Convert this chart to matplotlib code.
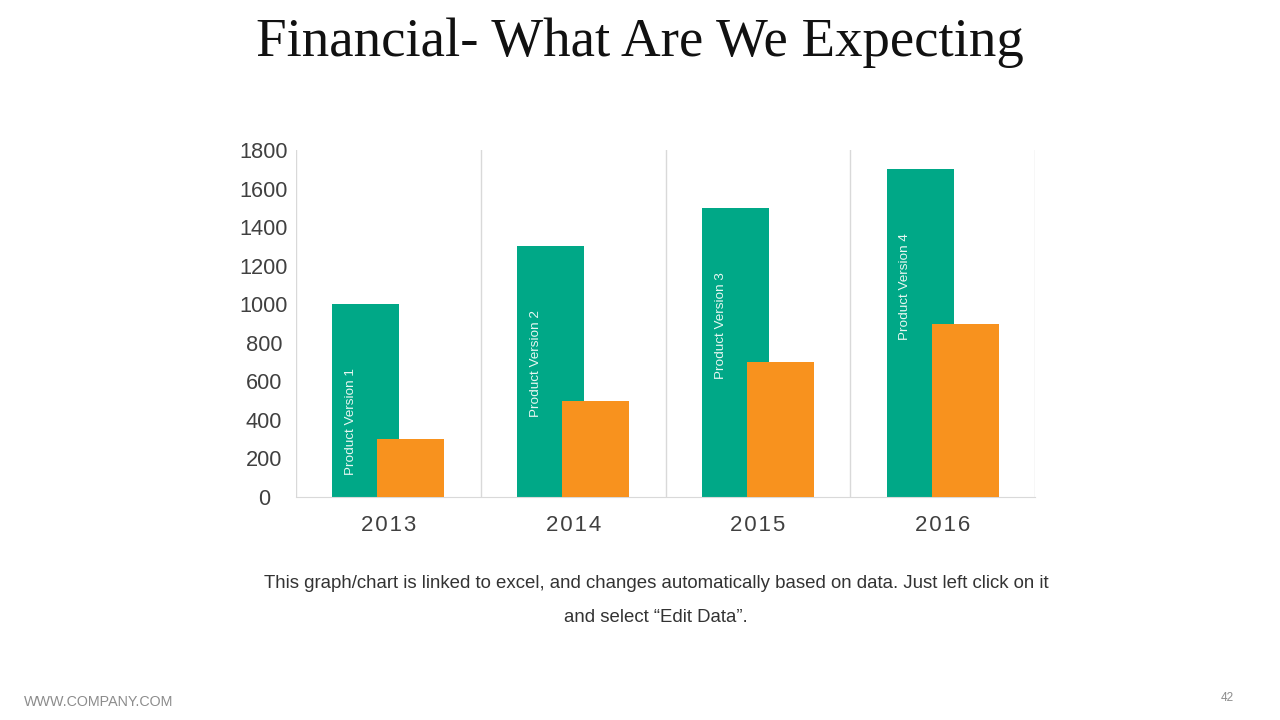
import numpy as np
import matplotlib.pyplot as plt

years = ["2013", "2014", "2015", "2016"]
versions = ["Product Version 1", "Product Version 2", "Product Version 3", "Product Version 4"]
green_vals = [1000, 1300, 1500, 1700]
orange_vals = [300, 500, 700, 900]

green = "#00a887"
orange = "#f8921e"
grid_c = "#d9d9d9"
text_c = "#404040"
sans = ["Liberation Sans", "DejaVu Sans"]

fig = plt.figure(figsize=(12.8, 7.2), dpi=100)
ax = fig.add_axes([296 / 1280, 223 / 720, 739 / 1280, 347 / 720])

x = np.arange(len(years))
w = 0.363
off = 0.122
ax.bar(x - off, green_vals, width=w, color=green, zorder=2)
ax.bar(x + off, orange_vals, width=w, color=orange, zorder=3)

for xi, v, lab in zip(x, green_vals, versions):
    ax.annotate(lab, (xi - off - 0.08, v), xytext=(0, -64), textcoords="offset pixels",
                rotation=90, ha="center", va="top", color="#e8f7f2", fontsize=9.7,
                family=sans, zorder=4)

ax.set_xlim(-0.5, 3.5)
ax.set_ylim(0, 1800)
ax.set_yticks(range(0, 1801, 200))
ax.set_xticks(x)
ax.set_xticklabels(["\u200a".join(y) for y in years], fontsize=16, color=text_c,
                   family=sans)
for v in np.arange(-0.5, 3.6, 1):
    ax.axvline(v, color=grid_c, lw=1, zorder=1)
for s in ["top", "right", "left"]:
    ax.spines[s].set_visible(False)
ax.spines["bottom"].set_color(grid_c)
ax.tick_params(axis="both", length=0)
ax.tick_params(axis="x", pad=13)
for t in ax.get_yticklabels():
    t.set_fontsize(15.7)
    t.set_color(text_c)
    t.set_family(sans)
    t.set_horizontalalignment("center")
ax.yaxis.set_tick_params(pad=23)

fig.text(0.5, 1 - 56 / 720, "Financial- What Are We Expecting", ha="center", va="baseline",
         fontsize=39.5, family="Liberation Serif", color="#111111")
fig.text(656 / 1280, 1 - 583 / 720,
         "This graph/chart is linked to excel, and changes automatically based on data. Just left click on it",
         ha="center", va="center", fontsize=13.4, family=sans, color="#333333")
fig.text(656 / 1280, 1 - 617 / 720, "and select \u201cEdit Data\u201d.",
         ha="center", va="center", fontsize=13.4, family=sans, color="#333333")
fig.text(24 / 1280, 1 - 702 / 720, "WWW.COMPANY.COM", ha="left", va="center",
         fontsize=10.3, family=sans, color="#8c8c8c")
fig.text(1227 / 1280, 1 - 698 / 720, "42", ha="center", va="center",
         fontsize=8.5, family=sans, color="#8c8c8c")

fig.savefig("out.png", dpi=100)
